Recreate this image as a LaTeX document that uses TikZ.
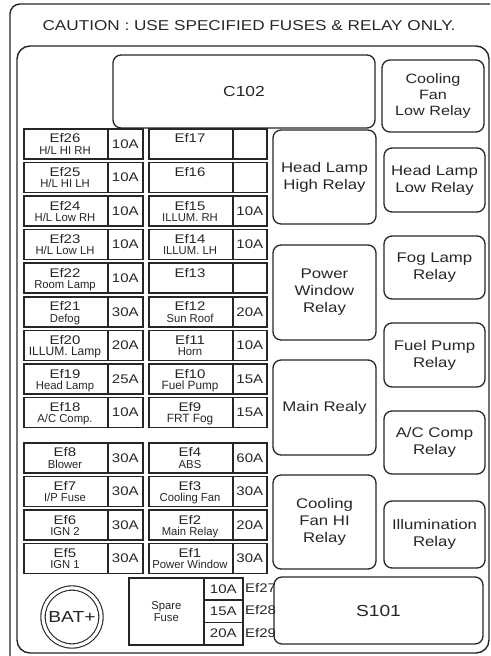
\documentclass[tikz,border=0pt]{standalone}
\usepackage{fontspec}
\setmainfont{Liberation Sans}
\newfontfamily\wide[FakeStretch=1.2]{Liberation Sans}
\newfontfamily\narrow[FakeStretch=0.98]{Liberation Sans}
\newcommand{\fz}[2]{\fontsize{#1}{#2}\selectfont}
\definecolor{ink}{gray}{0.15}
\tikzset{
  frameline/.style={draw=ink, line width=1.4pt},
  relay/.style={draw=ink, line width=1.3pt, rounded corners=8pt, align=center,
    font=\wide\fz{14}{17}, text=ink, inner sep=0pt},
  cell/.style={draw=ink, line width=1.6pt, anchor=north west, minimum height=30pt, inner sep=0pt},
  eftxt/.style={font=\wide\fz{12.5}{14}, text=ink, anchor=base, inner sep=0pt},
  subtxt/.style={font=\narrow\fz{11.5}{13}, text=ink, anchor=base, inner sep=0pt},
  amptxt/.style={font=\wide\fz{12.5}{14}, text=ink, inner sep=0pt},
}
% id, x, top, Ef label, sub label, amp, amp width
\newcommand{\fuse}[7]{%
  \node[cell, minimum width=84pt] (n#1) at (#2,#3) {};
  \node[cell, minimum width=#7pt] (a#1) at (#2+84,#3) {};
  \node[eftxt] (e#1) at (#2+42,#3+14.8) {#4};
  \node[subtxt] (s#1) at (#2+42,#3+26) {#5};
  \node[amptxt] (t#1) at (a#1.center) {#6};
}
\begin{document}
\begin{tikzpicture}[x=1pt,y=-1pt]
\useasboundingbox (0,0) rectangle (490,656);
\clip (0,0) rectangle (490,656);
% frames
\draw[frameline, rounded corners=10pt] (10,4) rectangle (505,666);
\draw[frameline, rounded corners=13pt] (17,46) rectangle (489,653);
\node[font=\wide\fz{14.3}{17}, text=ink, anchor=base, inner sep=0pt] (title) at (249,30.7)
  {CAUTION : USE SPECIFIED FUSES \& RELAY ONLY.};
% relays and connectors
\node[relay, minimum width=262pt, minimum height=73pt, font=\wide\fz{14.5}{17}] (c102) at (244,91.5) {C102};
\node[relay, minimum width=102pt, minimum height=72pt, font=\wide\fz{13.5}{16}] (cflow) at (433,96) {Cooling\\Fan\\Low Relay};
\node[relay, minimum width=103pt, minimum height=94pt] (hlhigh) at (324.5,177) {Head Lamp\\High Relay};
\node[relay, minimum width=101pt, minimum height=64pt] (hllow) at (434.5,180) {Head Lamp\\Low Relay};
\node[relay, minimum width=103pt, minimum height=95pt] (pwin) at (324.5,292.5) {Power\\Window\\Relay};
\node[relay, minimum width=101pt, minimum height=63pt] (fog) at (434.5,267.5) {Fog Lamp\\Relay};
\node[relay, minimum width=103pt, minimum height=95pt] (main) at (324.5,407.5) {Main Realy};
\node[relay, minimum width=101pt, minimum height=64pt] (fuel) at (434.5,355) {Fuel Pump\\Relay};
\node[relay, minimum width=101pt, minimum height=63pt] (ac) at (434.5,442.5) {A/C Comp\\Relay};
\node[relay, minimum width=103pt, minimum height=94pt] (cfhi) at (324.5,522) {Cooling\\Fan HI\\Relay};
\node[relay, minimum width=101pt, minimum height=67pt] (illum) at (434.5,534.5) {Illumination\\Relay};
\node[relay, minimum width=209pt, minimum height=67pt, font=\wide\fz{16}{18}] (s101) at (378.5,610.5) {S101};
% fuses, left column
\fuse{26}{23}{128}{Ef26}{H/L HI RH}{10A}{35}
\fuse{25}{23}{161.6}{Ef25}{H/L HI LH}{10A}{35}
\fuse{24}{23}{195.2}{Ef24}{H/L Low RH}{10A}{35}
\fuse{23}{23}{228.8}{Ef23}{H/L Low LH}{10A}{35}
\fuse{22}{23}{262.4}{Ef22}{Room Lamp}{10A}{35}
\fuse{21}{23}{296}{Ef21}{Defog}{30A}{35}
\fuse{20}{23}{329.6}{Ef20}{\fz{12.3}{13}ILLUM. Lamp}{20A}{35}
\fuse{19}{23}{363.2}{Ef19}{Head Lamp}{25A}{35}
\fuse{18}{23}{396.8}{Ef18}{A/C Comp.}{10A}{35}
\fuse{8}{23}{442}{Ef8}{Blower}{30A}{35}
\fuse{7}{23}{475.6}{Ef7}{I/P Fuse}{30A}{35}
\fuse{6}{23}{509.2}{Ef6}{IGN 2}{30A}{35}
\fuse{5}{23}{542.8}{Ef5}{IGN 1}{30A}{35}
% fuses, middle column
\fuse{17}{148}{128}{Ef17}{}{}{34}
\fuse{16}{148}{161.6}{Ef16}{}{}{34}
\fuse{15}{148}{195.2}{Ef15}{ILLUM. RH}{10A}{34}
\fuse{14}{148}{228.8}{Ef14}{ILLUM. LH}{10A}{34}
\fuse{13}{148}{262.4}{Ef13}{}{}{34}
\fuse{12}{148}{296}{Ef12}{Sun Roof}{20A}{34}
\fuse{11}{148}{329.6}{Ef11}{Horn}{10A}{34}
\fuse{10}{148}{363.2}{Ef10}{\fz{12}{13}Fuel Pump}{15A}{34}
\fuse{9}{148}{396.8}{Ef9}{\fz{12}{13}FRT Fog}{15A}{34}
\fuse{4}{148}{442}{Ef4}{ABS}{60A}{34}
\fuse{3}{148}{475.6}{Ef3}{Cooling Fan}{30A}{34}
\fuse{2}{148}{509.2}{Ef2}{Main Relay}{20A}{34}
\fuse{1}{148}{542.8}{Ef1}{Power Window}{30A}{34}
% spare fuses
\node[cell, minimum width=75pt, minimum height=67pt, align=center,
  font=\narrow\fz{11.5}{12.5}, text=ink] (spare) at (128,577) {Spare\\Fuse};
\node[cell, minimum width=39pt, minimum height=22.33pt] (sp1) at (203,577) {};
\node[cell, minimum width=39pt, minimum height=22.33pt] (sp2) at (203,599.33) {};
\node[cell, minimum width=39pt, minimum height=22.33pt] (sp3) at (203,621.67) {};
\node[amptxt] (sp1t) at (sp1.center) {10A};
\node[amptxt] (sp2t) at (sp2.center) {15A};
\node[amptxt] (sp3t) at (sp3.center) {20A};
\node[amptxt, anchor=west] (ef27) at (245,588.2) {Ef27};
\node[amptxt, anchor=west] (ef28) at (245,610.5) {Ef28};
\node[amptxt, anchor=west] (ef29) at (245,632.8) {Ef29};
% battery terminal
\node[circle, draw=ink, line width=1.1pt, double=white, double distance=3.2pt,
  minimum size=58pt, inner sep=0pt, font=\wide\fz{16}{18}, text=ink] (bat) at (72,617) {BAT+};
\end{tikzpicture}
\end{document}
